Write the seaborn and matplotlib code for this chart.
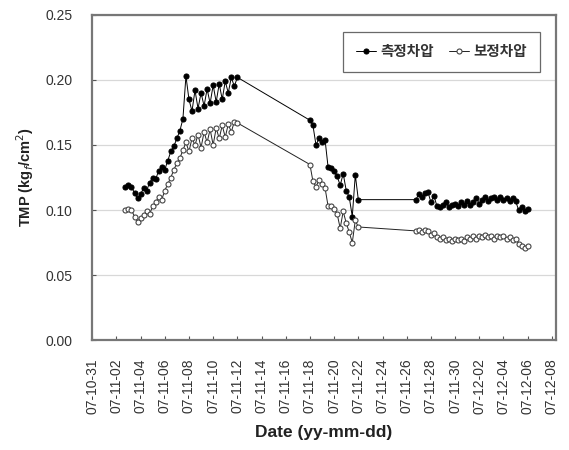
import matplotlib
matplotlib.use("Agg")
import matplotlib.pyplot as plt
import matplotlib.dates as mdates
import seaborn as sns
import pandas as pd

times = [
    "2007-11-02 18:00", "2007-11-03 00:00", "2007-11-03 06:00", "2007-11-03 12:00", "2007-11-03 18:00",
    "2007-11-04 00:00", "2007-11-04 06:00", "2007-11-04 12:00", "2007-11-04 18:00",
    "2007-11-05 00:00", "2007-11-05 06:00", "2007-11-05 12:00", "2007-11-05 18:00",
    "2007-11-06 00:00", "2007-11-06 06:00", "2007-11-06 12:00", "2007-11-06 18:00",
    "2007-11-07 00:00", "2007-11-07 06:00", "2007-11-07 12:00", "2007-11-07 18:00",
    "2007-11-08 00:00", "2007-11-08 06:00", "2007-11-08 12:00", "2007-11-08 18:00",
    "2007-11-09 00:00", "2007-11-09 06:00", "2007-11-09 12:00", "2007-11-09 18:00",
    "2007-11-10 00:00", "2007-11-10 06:00", "2007-11-10 12:00", "2007-11-10 18:00",
    "2007-11-11 00:00", "2007-11-11 06:00", "2007-11-11 12:00", "2007-11-11 18:00",
    "2007-11-12 00:00",
    "2007-11-18 00:00", "2007-11-18 06:00", "2007-11-18 12:00", "2007-11-18 18:00",
    "2007-11-19 00:00", "2007-11-19 06:00", "2007-11-19 12:00", "2007-11-19 18:00",
    "2007-11-20 00:00", "2007-11-20 06:00", "2007-11-20 12:00", "2007-11-20 18:00",
    "2007-11-21 00:00", "2007-11-21 06:00", "2007-11-21 12:00", "2007-11-21 18:00",
    "2007-11-22 00:00",
    "2007-11-26 18:00", "2007-11-27 00:00", "2007-11-27 06:00", "2007-11-27 12:00", "2007-11-27 18:00",
    "2007-11-28 00:00", "2007-11-28 06:00", "2007-11-28 12:00", "2007-11-28 18:00",
    "2007-11-29 00:00", "2007-11-29 06:00", "2007-11-29 12:00", "2007-11-29 18:00",
    "2007-11-30 00:00", "2007-11-30 06:00", "2007-11-30 12:00", "2007-11-30 18:00",
    "2007-12-01 00:00", "2007-12-01 06:00", "2007-12-01 12:00", "2007-12-01 18:00",
    "2007-12-02 00:00", "2007-12-02 06:00", "2007-12-02 12:00", "2007-12-02 18:00",
    "2007-12-03 00:00", "2007-12-03 06:00", "2007-12-03 12:00", "2007-12-03 18:00",
    "2007-12-04 00:00", "2007-12-04 06:00", "2007-12-04 12:00", "2007-12-04 18:00",
    "2007-12-05 00:00", "2007-12-05 06:00", "2007-12-05 12:00", "2007-12-05 18:00",
    "2007-12-06 00:00",
]

measured = [
    0.118, 0.119, 0.118, 0.113, 0.109,
    0.112, 0.117, 0.115, 0.121,
    0.125, 0.124, 0.130, 0.133,
    0.131, 0.138, 0.145, 0.149,
    0.155, 0.161, 0.170, 0.203,
    0.185, 0.176, 0.192, 0.178,
    0.190, 0.180, 0.193, 0.182,
    0.196, 0.183, 0.197, 0.185,
    0.199, 0.190, 0.202, 0.195,
    0.202,
    0.169, 0.165, 0.150, 0.155,
    0.152, 0.154, 0.133, 0.132,
    0.130, 0.126, 0.119, 0.128,
    0.115, 0.110, 0.095, 0.127,
    0.108,
    0.108, 0.112, 0.110, 0.113, 0.114,
    0.106, 0.111, 0.103, 0.102,
    0.104, 0.106, 0.102, 0.104,
    0.105, 0.103, 0.106, 0.104,
    0.107, 0.104, 0.106, 0.109,
    0.105, 0.108, 0.110, 0.107,
    0.109, 0.110, 0.108, 0.110,
    0.108, 0.109, 0.107, 0.109,
    0.107, 0.100, 0.102, 0.099,
    0.101,
]

corrected = [
    0.100, 0.101, 0.100, 0.095, 0.091,
    0.094, 0.096, 0.099, 0.097,
    0.103, 0.106, 0.110, 0.108,
    0.115, 0.120, 0.125, 0.131,
    0.136, 0.140, 0.146, 0.152,
    0.145, 0.155, 0.150, 0.158,
    0.148, 0.160, 0.152, 0.162,
    0.150, 0.163, 0.155, 0.165,
    0.156, 0.166, 0.160, 0.168,
    0.167,
    0.135, 0.122, 0.118, 0.123,
    0.120, 0.117, 0.103, 0.103,
    0.101, 0.097, 0.086, 0.099,
    0.090, 0.083, 0.075, 0.092,
    0.087,
    0.084, 0.085, 0.083, 0.085, 0.084,
    0.081, 0.082, 0.079, 0.078,
    0.079, 0.077, 0.078, 0.076,
    0.078, 0.077, 0.078, 0.076,
    0.079, 0.078, 0.080, 0.078,
    0.080, 0.079, 0.081, 0.079,
    0.080, 0.078, 0.080, 0.079,
    0.080, 0.078, 0.079, 0.077,
    0.078, 0.074, 0.072, 0.071,
    0.072,
]

series_labels = ["측정차압", "보정차압"]
x_ticks = pd.date_range("2007-10-31", "2007-12-08", freq="2D")
y_ticks = [0.00, 0.05, 0.10, 0.15, 0.20, 0.25]

sns.set_theme(style="white")
plt.rcParams["font.family"] = ["Liberation Sans", "Noto Sans CJK KR", "DejaVu Sans"]

t = pd.to_datetime(times)
fig = plt.figure(figsize=(5.69, 4.5), dpi=100)
ax = fig.add_axes([0.162, 0.244, 0.815, 0.723])

sns.lineplot(x=t, y=measured, ax=ax, color="black", linewidth=0.7, marker="o",
             markersize=3.6, markerfacecolor="black", markeredgecolor="black",
             markeredgewidth=0.8, sort=False, estimator=None, label=series_labels[0])
sns.lineplot(x=t, y=corrected, ax=ax, color="#222222", linewidth=0.7, marker="o",
             markersize=3.6, markerfacecolor="white", markeredgecolor="#444444",
             markeredgewidth=0.8, sort=False, estimator=None, label=series_labels[1])

ax.set_ylim(0, 0.25)
ax.set_yticks(y_ticks)
ax.yaxis.set_major_formatter(matplotlib.ticker.FormatStrFormatter("%.2f"))
ax.set_xlim(pd.Timestamp("2007-10-31"), pd.Timestamp("2007-12-08 08:00"))
ax.set_xticks(x_ticks)
ax.xaxis.set_major_formatter(mdates.DateFormatter("%y-%m-%d"))
for lab in ax.get_xticklabels():
    lab.set_rotation(90)

ax.grid(axis="y", color="#d8d8d8", linewidth=0.9)
ax.grid(axis="x", visible=False)
ax.tick_params(axis="both", direction="in", length=3, width=0.8, color="#555555",
               labelsize=10, labelcolor="#333333", bottom=True, left=True)
ax.tick_params(axis="y", pad=14)
ax.tick_params(axis="x", pad=13)

ax.set_xlabel("Date (yy-mm-dd)", fontsize=12.5, fontweight="bold", color="#222222", labelpad=8)
ax.set_ylabel("TMP (kg$_f$/cm$^2$)", fontsize=10.5, fontweight="bold", color="#222222", labelpad=7)

for s in ax.spines.values():
    s.set_color("#777777")
    s.set_linewidth(1.6)

leg = ax.legend(loc="upper right", bbox_to_anchor=(0.966, 0.948), frameon=True, fancybox=False,
                edgecolor="#444444", fontsize=10.5, handlelength=1.4, handletextpad=0.3,
                ncol=2, columnspacing=1.0, borderpad=0.9, borderaxespad=0)
leg.get_frame().set_linewidth(0.9)
for txt in leg.get_texts():
    txt.set_fontweight("bold")
    txt.set_color("#333333")

fig.savefig("out.png", dpi=100)
